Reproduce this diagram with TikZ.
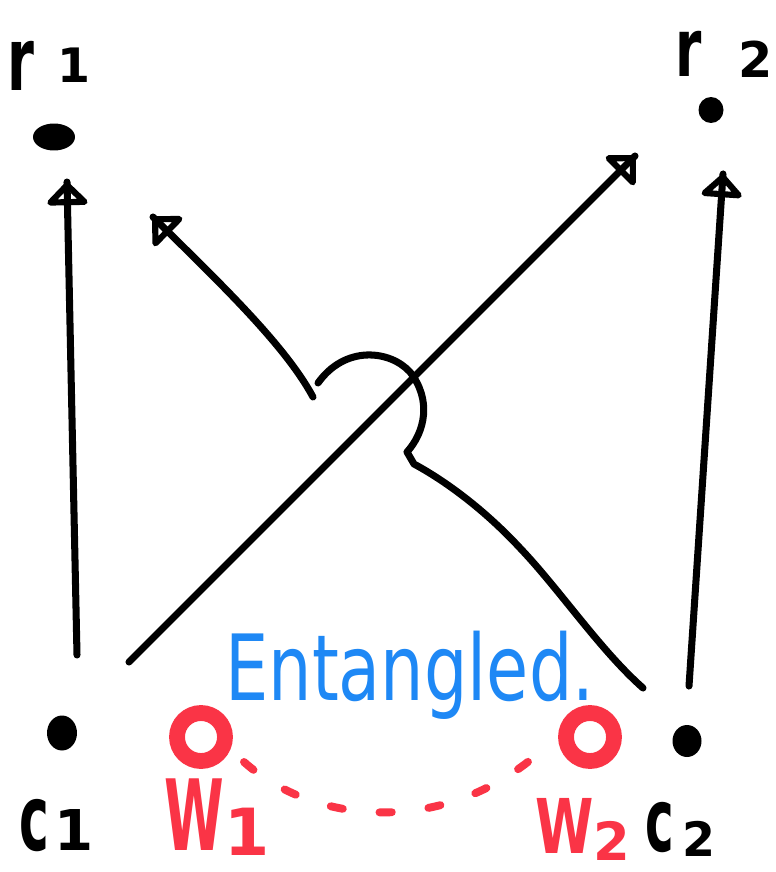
\documentclass[tikz,border=0pt]{standalone}
\usepackage{fontspec}
\usepackage{graphicx}
\setmainfont{DejaVu Sans}
\usetikzlibrary{arrows.meta,decorations.markings,shapes.geometric}
\definecolor{inkred}{RGB}{250,52,70}
\definecolor{inkblue}{RGB}{30,136,245}
\newcommand\fsz[1]{\fontsize{#1}{#1}\selectfont}
\newcommand\squeeze[2]{\scalebox{#1}[1]{#2}}
\begin{document}
\begin{tikzpicture}[x=0.02cm, y=-0.02cm,
  pen/.style={line width=4pt, line cap=round, line join=round},
  headed/.style={postaction={decorate}, decoration={markings,
      mark=at position 1 with {\arrow{Triangle[open,round,length=14pt,width=27pt]}}}},
  dotnode/.style={ellipse, fill=black, inner sep=0pt},
  ring/.style={circle, draw=inkred, line width=9pt, inner sep=0pt, minimum size=0.96cm},
  lbl/.style={inner sep=0pt, anchor=base west},
]
\fill[white] (0,0) rectangle (775,872);
\useasboundingbox (0,0) rectangle (775,872);

% points (dots) and the two red rings
\node[dotnode, minimum width=0.84cm, minimum height=0.54cm] (r1) at (54,137) {};
\node[dotnode, minimum width=0.5cm, minimum height=0.52cm] (r2) at (711,110) {};
\node[dotnode, minimum width=0.6cm, minimum height=0.7cm] (c1) at (62,733) {};
\node[dotnode, minimum width=0.58cm, minimum height=0.64cm] (c2) at (687,741) {};
\node[ring] (w1) at (201,737) {};
\node[ring] (w2) at (590,737) {};

% labels, squeezed to the narrow hand lettering
\node[lbl, font=\bfseries\fsz{50}] (r1-label) at (7,90) {\squeeze{0.62}{r}\kern13pt\raisebox{4pt}{\fsz{27}1}};
\node[lbl, font=\bfseries\fsz{46}] (r2-label) at (675,76) {\squeeze{0.66}{r}\kern21pt\raisebox{-1pt}{\fsz{28}2}};
\node[lbl, font=\bfseries\fsz{52}] (c1-label) at (19,850) {\squeeze{0.55}{c}\kern3pt{\fsz{32}1}};
\node[lbl, font=\bfseries\fsz{50}] (c2-label) at (645,851) {\squeeze{0.55}{c}\kern5pt\raisebox{-3pt}{\fsz{27}2}};
\node[lbl, font=\bfseries\fsz{56}, text=inkred] (w1-label) at (164,850) {\squeeze{0.55}{W}\raisebox{-3pt}{\fsz{37}1}};
\node[lbl, font=\bfseries\fsz{43}, text=inkred] (w2-label) at (535,853) {\squeeze{0.7}{W}\raisebox{-4pt}{\fsz{30}2}};
\node[lbl, font=\fsz{52}, text=inkblue] (ent) at (225,700) {\squeeze{0.75}{Entangled.}};

% connector end points beside the dots
\coordinate (c1-up) at (77,655);
\coordinate (r1-foot) at (67,182);
\coordinate (c2-up) at (689,686);
\coordinate (r2-foot) at (723,174);
\coordinate (c1-diag) at (129,662);
\coordinate (r2-diag) at (635,156);
\coordinate (c2-diag) at (643,688);
\coordinate (r1-diag) at (153,217);
\coordinate (w1-link) at (244,762);
\coordinate (w2-link) at (534,757);

% arrows
\draw[pen, headed] (c1-up) -- (r1-foot);
\draw[pen, headed] (c2-up) -- (r2-foot);
\draw[pen, headed] (c1-diag) -- (r2-diag);
\draw[pen, headed] (c2-diag) .. controls (600,650) and (560,590) .. (520,548)
   .. controls (480,505) and (440,478) .. (414,464)
   -- (407,452)
   .. controls (425,432) and (432,400) .. (410,372)
   .. controls (390,350) and (345,345) .. (318,383)
   (313,397) .. controls (285,345) and (220,283) .. (r1-diag);

% dashed link between the rings
\draw[inkred, line width=4.5pt, line cap=round, dash pattern=on 7pt off 21pt]
  (w1-link) .. controls (315,825) and (440,835) .. (w2-link);
\end{tikzpicture}
\end{document}
